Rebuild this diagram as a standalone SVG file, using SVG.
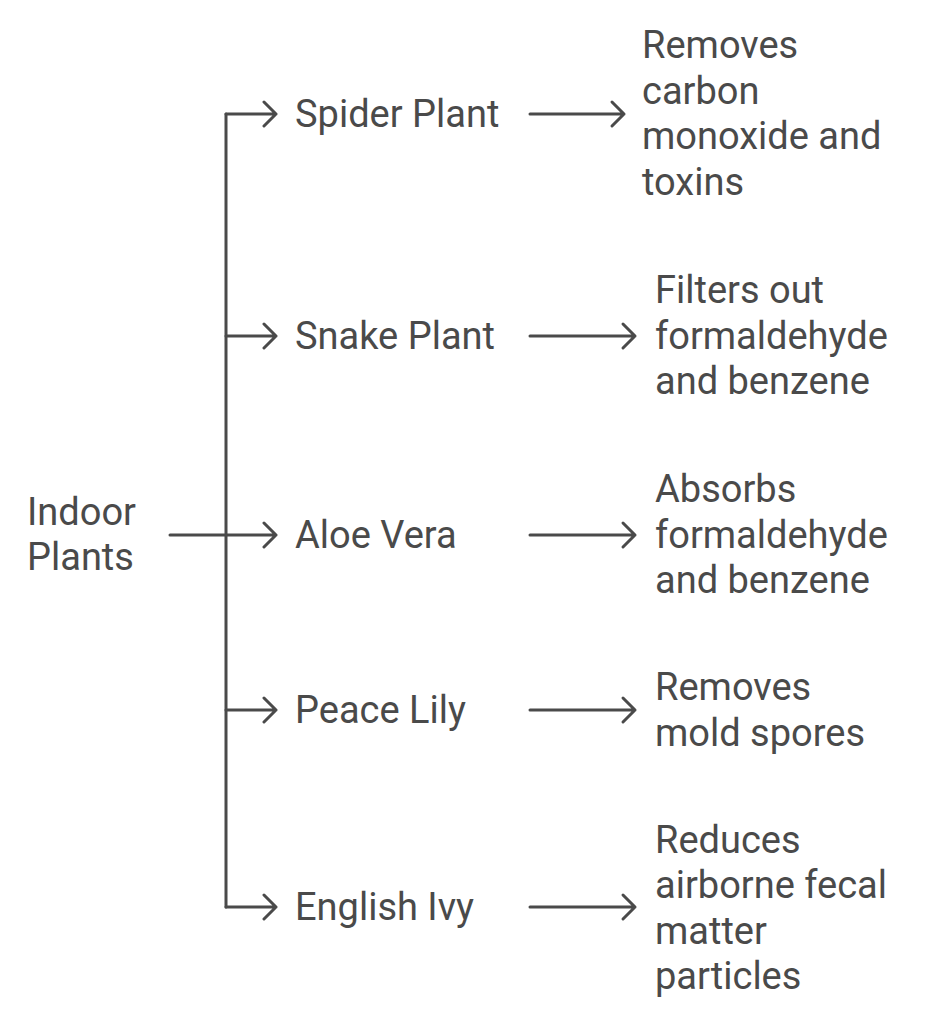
<svg xmlns="http://www.w3.org/2000/svg" width="936" height="1024" viewBox="0 0 936 1024">
<style>
.t{font-family:Roboto,"Liberation Sans",sans-serif;font-size:38px;fill:#4a4a4a}
.c{fill:none;stroke:#4a4a4a;stroke-width:3;stroke-linecap:round;stroke-linejoin:round}
</style>
<rect width="936" height="1024" fill="#ffffff"/>
<g id="connectors">
<path class="c" d="M170,535 H226"/>
<path class="c" d="M226,114 V907"/>
<path class="c" d="M226,114 H276 M264,102 L276,114 L264,126"/>
<path class="c" d="M226,336 H276 M264,324 L276,336 L264,348"/>
<path class="c" d="M226,535 H276 M264,523 L276,535 L264,547"/>
<path class="c" d="M226,710 H276 M264,698 L276,710 L264,722"/>
<path class="c" d="M226,907 H276 M264,895 L276,907 L264,919"/>
<path class="c" d="M530,114 H624 M612,102 L624,114 L612,126"/>
<path class="c" d="M530,336 H635 M623,324 L635,336 L623,348"/>
<path class="c" d="M530,535 H635 M623,523 L635,535 L623,547"/>
<path class="c" d="M530,710 H635 M623,698 L635,710 L623,722"/>
<path class="c" d="M530,907 H635 M623,895 L635,907 L623,919"/>
</g>
<g id="root"><text class="t" x="27" y="525">Indoor</text><text class="t" x="27" y="570">Plants</text></g>
<g id="spider"><text class="t" x="295" y="127">Spider Plant</text></g>
<g id="snake"><text class="t" x="295" y="349">Snake Plant</text></g>
<g id="aloe"><text class="t" x="295" y="548">Aloe Vera</text></g>
<g id="peace"><text class="t" x="295" y="723">Peace Lily</text></g>
<g id="ivy"><text class="t" x="295" y="920">English Ivy</text></g>
<g id="spider-desc"><text class="t" x="642" y="58">Removes</text><text class="t" x="642" y="104">carbon</text><text class="t" x="642" y="149">monoxide and</text><text class="t" x="642" y="195">toxins</text></g>
<g id="snake-desc"><text class="t" x="655" y="303">Filters out</text><text class="t" x="655" y="349">formaldehyde</text><text class="t" x="655" y="394">and benzene</text></g>
<g id="aloe-desc"><text class="t" x="655" y="502">Absorbs</text><text class="t" x="655" y="548">formaldehyde</text><text class="t" x="655" y="593">and benzene</text></g>
<g id="peace-desc"><text class="t" x="655" y="700">Removes</text><text class="t" x="655" y="746">mold spores</text></g>
<g id="ivy-desc"><text class="t" x="655" y="853">Reduces</text><text class="t" x="655" y="898">airborne fecal</text><text class="t" x="655" y="944">matter</text><text class="t" x="655" y="989">particles</text></g>
</svg>
